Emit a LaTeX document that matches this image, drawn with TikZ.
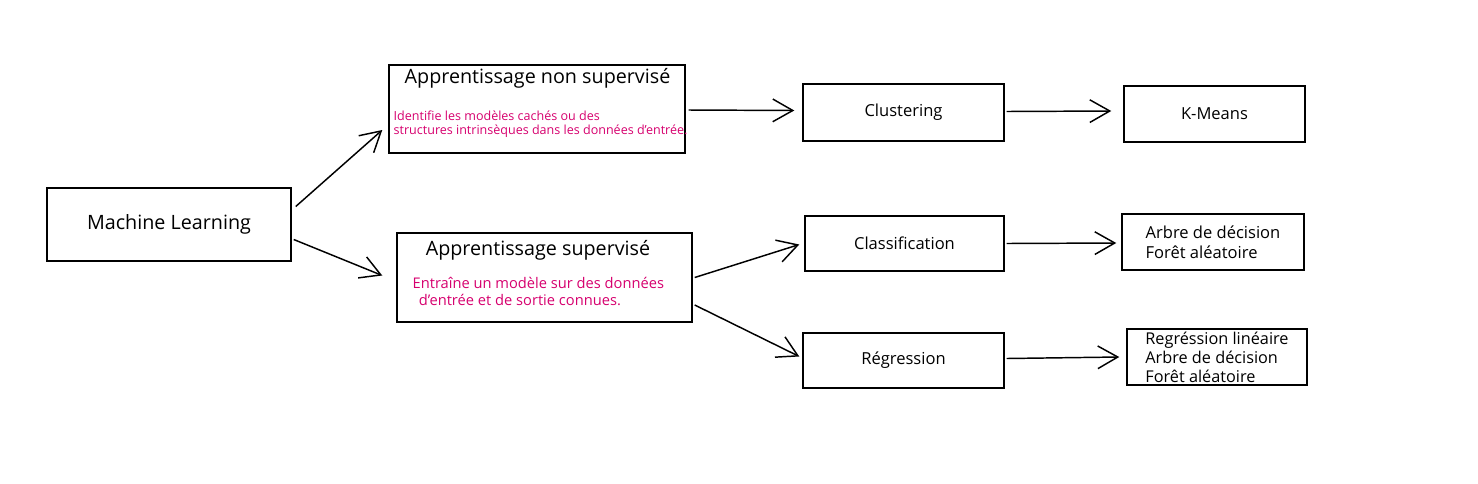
\documentclass[tikz,border=0pt]{standalone}
\usepackage{fontspec}
\setmainfont{Open Sans}
\usetikzlibrary{arrows.meta,calc}

\definecolor{pinktext}{RGB}{214,0,110}

\begin{document}
\begin{tikzpicture}[x=0.75pt,y=-0.75pt,
    box/.style={draw,line width=1.1pt,rectangle,inner sep=0pt},
    arr/.style={line width=1.1pt,-{Straight Barb[length=15pt,width=17pt,line width=1.1pt]}},
    big/.style={font=\fontsize{14.8}{17}\selectfont},
    small/.style={font=\fontsize{12.4}{15}\selectfont},
    note/.style={text=pinktext,align=left,anchor=west}]

    \useasboundingbox (0,0) rectangle (1478,483);

    \node[box,big,minimum width=183pt,minimum height=54.75pt] (ml) at (169,224.5) {Machine Learning};

    \node[box,minimum width=222pt,minimum height=66pt] (nsup) at (537,109) {};
    \node[big] (nsuptitle) at (537.5,78) {Apprentissage non supervisé};
    \node[note,font=\fontsize{9.4}{10.5}\selectfont] (nsupnote) at (389,124)
        {Identifie les modèles cachés ou des\\structures intrinsèques dans les données d'entrée.};

    \node[box,minimum width=221.25pt,minimum height=66.75pt] (sup) at (544.5,277.5) {};
    \node[big] (suptitle) at (538,250) {Apprentissage supervisé};
    \node[note,font=\fontsize{11}{12.75}\selectfont] (supnote) at (408,291.5)
        {Entraîne un modèle sur des données\\\ \,d'entrée et de sortie connues.};

    \node[box,small,minimum width=150.75pt,minimum height=42.75pt] (clust) at (903.5,112.5) {Clustering};
    \node[box,small,minimum width=135.75pt,minimum height=42pt] (kmeans) at (1214.5,114) {K-Means};

    \node[box,small,minimum width=149.25pt,minimum height=41.25pt] (class) at (904.5,243.5) {Classification};
    \node[box,small,minimum width=136.5pt,minimum height=42pt,align=left] (classalgo) at (1213,242)
        {Arbre de décision\\Forêt aléatoire};

    \node[box,small,minimum width=150.75pt,minimum height=41.25pt] (reg) at (903.5,360.5) {Régression};
    \node[box,minimum width=135pt,minimum height=42pt,align=left,font=\fontsize{12.2}{14.25}\selectfont] (regalgo) at (1217,357)
        {Regréssion linéaire\\Arbre de décision\\Forêt aléatoire};

    \draw[arr] ($(ml.east)+(4,-18)$) -- ($(nsup.west)+(-6,21)$);
    \draw[arr] ($(ml.east)+(2,15)$) -- ($(sup.west)+(-14,-2)$);

    \draw[arr] ($(nsup.east)+(3,1)$) -- ($(clust.west)+(-8,-2)$);
    \draw[arr] ($(clust.east)+(2,-1)$) -- ($(kmeans.west)+(-12,-3)$);

    \draw[arr] ($(sup.east)+(2,0)$) -- ($(class.west)+(-5,1)$);
    \draw[arr] ($(sup.east)+(2,27.5)$) -- ($(reg.west)+(-3,-4)$);

    \draw[arr] ($(class.east)+(2,0)$) -- ($(classalgo.west)+(-5,1)$);
    \draw[arr] ($(reg.east)+(2,-2)$) -- ($(regalgo.west)+(-7,0)$);

\end{tikzpicture}
\end{document}
